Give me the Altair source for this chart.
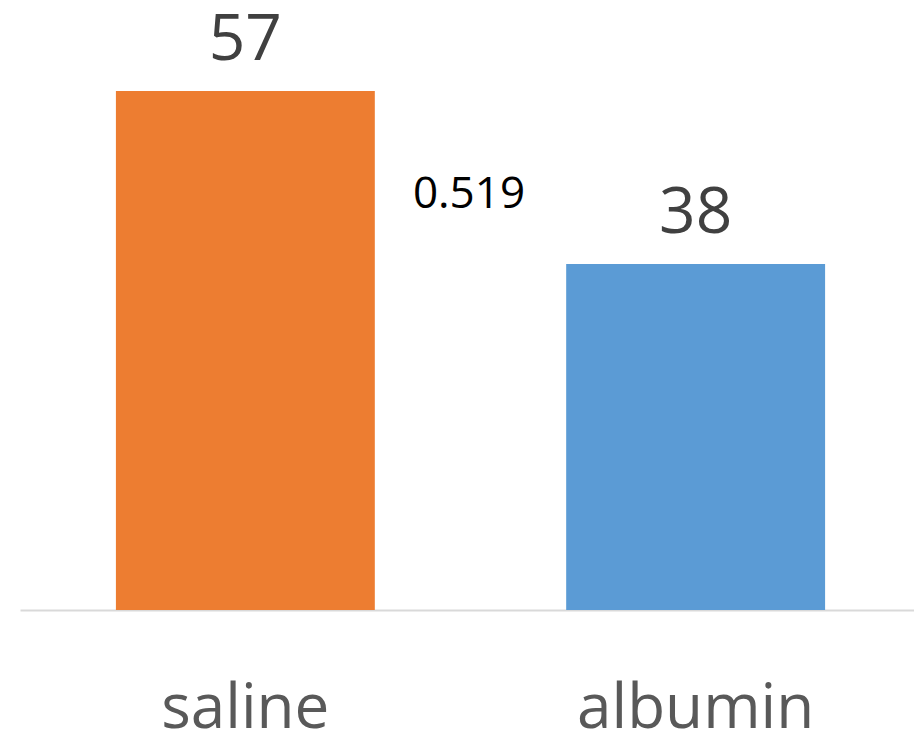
import altair as alt
import pandas as pd

categories = ["saline", "albumin"]
values = [57, 38]
colors = ["#ED7D31", "#5B9BD5"]
p_value_text = ["0.519"]

df = pd.DataFrame({"group": categories, "value": values, "color": colors})

x = alt.X("group:N", sort=categories,
          scale=alt.Scale(paddingInner=0.425, paddingOuter=0.213, range=[0, 901]),
          axis=alt.Axis(title=None, labelAngle=0, labelFont="Open Sans", labelFontSize=62,
                        labelColor="#595959", labelPadding=68, ticks=False,
                        labelOverlap=False, labelBound=False, labelLimit=500,
                        domainColor="#D9D9D9", domainWidth=2))
y = alt.Y("value:Q", scale=alt.Scale(domain=[0, 67], nice=False), axis=None)

bars = alt.Chart(df).mark_bar().encode(x=x, y=y, color=alt.Color("color:N", scale=None))
labels = alt.Chart(df).mark_text(baseline="alphabetic", dy=-31, font="Open Sans",
                                 fontSize=64, color="#404040").encode(
    x=x, y=y, text="value:Q")
pval = alt.Chart(pd.DataFrame({"t": p_value_text})).mark_text(
    font="Open Sans", fontSize=44, color="#000000", baseline="middle").encode(
    x=alt.value(449), y=alt.value(195), text="t:N")

chart = (bars + labels + pval).properties(
    width=894, height=610, background="white",
    padding={"left": 20, "top": 0, "right": 0, "bottom": 126},
    autosize=alt.AutoSizeParams(type="none"),
).configure_view(strokeWidth=0, stroke="transparent")

chart.save("out.html", embed_options={"renderer": "svg", "actions": False})
